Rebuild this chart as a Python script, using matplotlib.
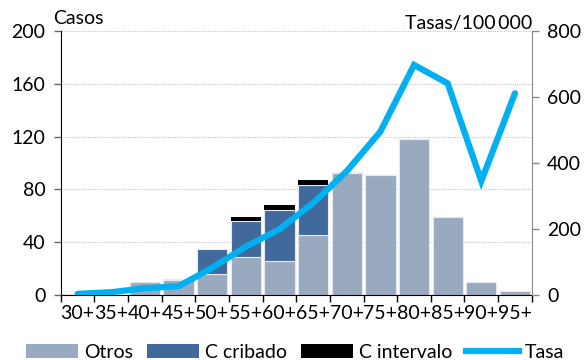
import numpy as np
import matplotlib.pyplot as plt
from matplotlib.patches import Patch
from matplotlib.lines import Line2D

plt.rcParams['font.family'] = ['Lato', 'DejaVu Sans']

grupos = ['30+', '35+', '40+', '45+', '50+', '55+', '60+', '65+',
          '70+', '75+', '80+', '85+', '90+', '95+']
otros = [1, 0, 10, 11, 16, 29, 26, 45, 92, 91, 118, 59, 10, 3]
c_cribado = [0, 0, 0, 1, 19, 27, 38, 38, 1, 0, 0, 0, 0, 0]
c_intervalo = [0, 0, 0, 0, 0, 3, 4, 4, 0, 0, 0, 0, 0, 0]
tasa = [3, 8, 20, 26, 82, 146, 199, 278, 375, 495, 697, 641, 345, 611]

col_otros = '#98a9c0'
col_cribado = '#41699b'
col_intervalo = '#000000'
col_tasa = '#00b0f0'

x = np.arange(len(grupos))
otros = np.array(otros)
c_cribado = np.array(c_cribado)
c_intervalo = np.array(c_intervalo)

fig = plt.figure(figsize=(5.85, 3.6), dpi=100)
ax = fig.add_axes([0.104, 0.181, 0.805, 0.733])

ax.bar(x, otros, width=0.9, color=col_otros, edgecolor='#e6eaf0', linewidth=0.8, zorder=2)
ax.bar(x, c_cribado, bottom=otros, width=0.9, color=col_cribado, edgecolor='#e6eaf0', linewidth=0.8, zorder=2)
ax.bar(x, c_intervalo, bottom=otros + c_cribado, width=0.9, color=col_intervalo, linewidth=0, zorder=2)

ax.set_xlim(-0.5, len(grupos) - 0.5)
ax.set_ylim(0, 200)
ax.set_yticks(np.arange(0, 201, 40))
ax.yaxis.grid(True, linestyle=(0, (1, 1)), color='#c8c8c8', linewidth=0.8, zorder=0)
ax.set_axisbelow(True)

ax.set_xticks(x)
ax.set_xticklabels(grupos)
ax.set_xticks(np.arange(-0.5, len(grupos), 1), minor=True)
ax.tick_params(axis='x', which='major', length=0, labelsize=14, pad=7)
ax.tick_params(axis='x', which='minor', length=5, width=1, color='black', direction='out')
ax.tick_params(axis='y', labelsize=14, length=5, width=1, color='#666666', direction='out', pad=6)

ax.spines['top'].set_visible(False)
ax.spines['right'].set_visible(False)
ax.spines['left'].set_color('black')
ax.spines['bottom'].set_color('black')

ax2 = ax.twinx()
ax2.plot(x, tasa, color=col_tasa, linewidth=4.5, solid_capstyle='round', solid_joinstyle='miter', zorder=5)
ax2.set_ylim(0, 800)
ax2.set_yticks(np.arange(0, 801, 200))
ax2.tick_params(axis='y', labelsize=14, length=5, width=1, color='#888888', direction='out', pad=6)
for s in ['top', 'left', 'bottom']:
    ax2.spines[s].set_visible(False)
ax2.spines['right'].set_color('#888888')

fig.text(0.09, 0.925, 'Casos', fontsize=14, ha='left', va='bottom')
fig.text(0.91, 0.912, 'Tasas/100\u2009000', fontsize=14, ha='right', va='bottom')

handles = [
    Patch(facecolor=col_otros, label='Otros'),
    Patch(facecolor=col_cribado, label='C cribado'),
    Patch(facecolor=col_intervalo, label='C intervalo'),
    Line2D([0], [0], color=col_tasa, linewidth=4.5, label='Tasa'),
]
fig.legend(handles=handles, loc='lower center', bbox_to_anchor=(0.504, -0.05), ncol=4,
           frameon=False, fontsize=14, handlelength=2.7, handleheight=0.7,
           handletextpad=0.3, columnspacing=0.7)

fig.savefig('out.png', dpi=100)
